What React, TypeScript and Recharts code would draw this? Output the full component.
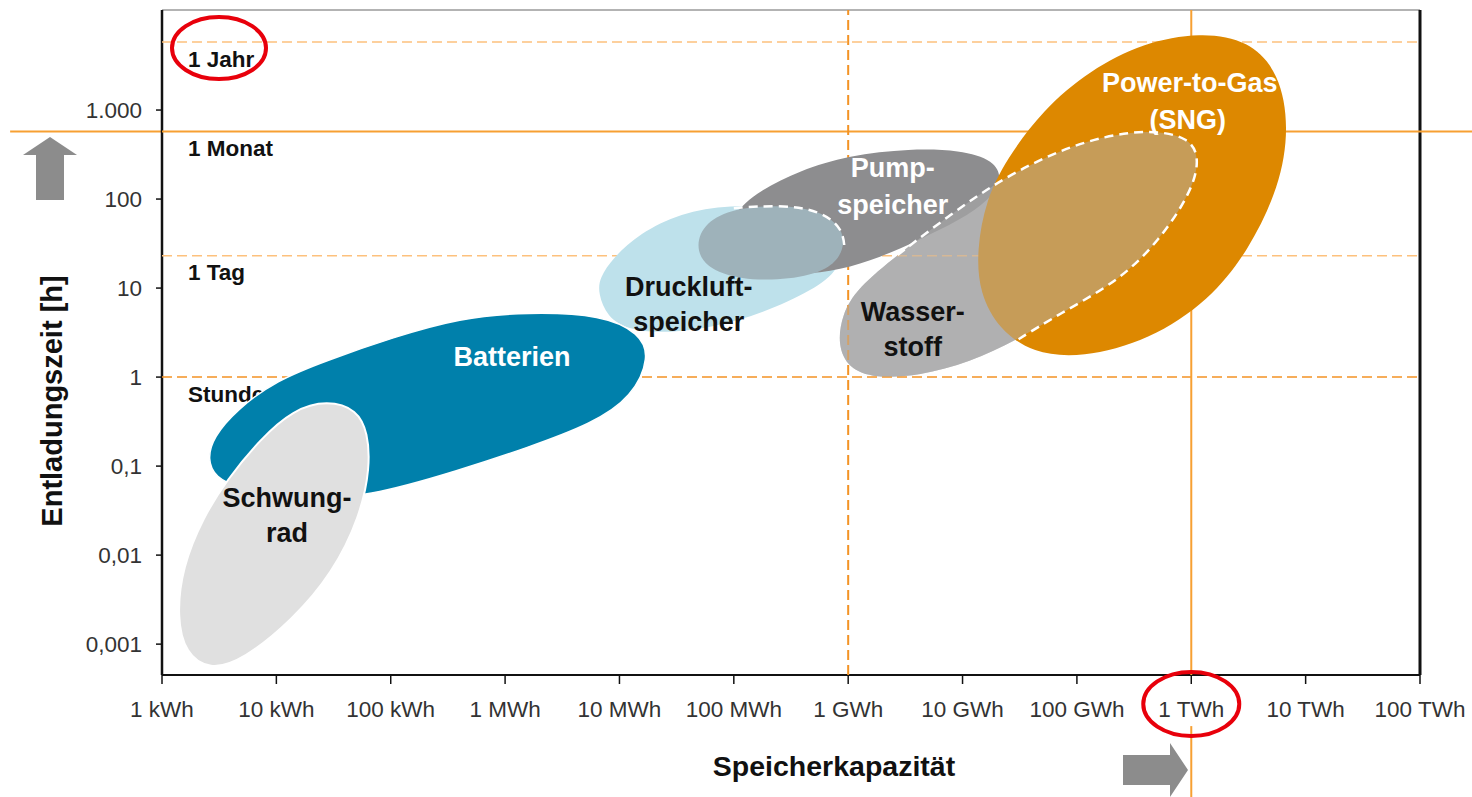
import React from "react";
import { ScatterChart, Scatter, XAxis, YAxis, ReferenceLine } from "recharts";

const FONT = '"Liberation Sans", Arial, Helvetica, sans-serif';

// Speicherkapazität in kWh (x), Entladungszeit in h (y)
const xTicks = [1, 10, 100, 1e3, 1e4, 1e5, 1e6, 1e7, 1e8, 1e9, 1e10, 1e11];
const xTickLabels = ["1 kWh", "10 kWh", "100 kWh", "1 MWh", "10 MWh", "100 MWh", "1 GWh", "10 GWh", "100 GWh", "1 TWh", "10 TWh", "100 TWh"];
const yTicks = [0.001, 0.01, 0.1, 1, 10, 100, 1000];
const yTickLabels = ["0,001", "0,01", "0,1", "1", "10", "100", "1.000"];

const periodLabels = ["1 Jahr", "1 Monat", "1 Tag", "Stunde"];
const periodHours = [5800, 573, 23, 1];
const markGWh = 1e6;
const markTWh = 1e9;

// outlines of the technology areas, [kWh, h]
const batterien = [
  [2.5, 0.12], [2.8, 0.21], [4.5, 0.43], [10, 0.92], [28, 1.55], [105, 2.8], [400, 4.6], [1550, 5.4],
  [7200, 5.0], [15000, 3.1], [18500, 1.7], [13000, 0.6], [5800, 0.3], [1550, 0.16], [400, 0.09],
  [63, 0.045], [16, 0.042], [4.8, 0.055], [2.9, 0.075],
];
const schwungrad = [
  [28, 0.55], [51, 0.43], [63, 0.235], [66, 0.098], [54, 0.027], [31, 0.0063], [14, 0.0019],
  [5.1, 0.00066], [2.6, 0.00051], [1.6, 0.00079], [1.35, 0.002], [1.5, 0.0073], [2.3, 0.027],
  [3.7, 0.07], [7.2, 0.2], [14, 0.43],
];
const druckluft = [
  [6500, 8.8], [7800, 4.7], [12000, 3.4], [24000, 3.1], [65000, 3.6], [180000, 5.2], [490000, 9.5],
  [850000, 16], [900000, 35], [650000, 58], [290000, 81], [92000, 86], [34000, 70], [15000, 41],
  [8800, 22], [6700, 13],
];
const pumpspeicher = [
  [92000, 66], [170000, 126], [380000, 210], [1.0e6, 310], [3.5e6, 370], [9.5e6, 355], [1.9e7, 275],
  [2.25e7, 163], [1.7e7, 97], [9.5e6, 58], [4.2e6, 35], [1.9e6, 22], [850000, 16], [380000, 14],
  [170000, 16], [92000, 27],
];
const pumpDruckluft = [
  [46000, 30], [56000, 55], [100000, 79], [250000, 86], [565000, 75], [900000, 47], [930000, 27],
  [690000, 16], [310000, 12.3], [113000, 12.3], [56000, 17],
];
const wasserstoff = [
  [4.3e8, 600], [9.7e8, 500], [1.2e9, 275], [9.7e8, 111], [5.3e8, 35], [2.4e8, 12.3], [6.8e7, 5],
  [3.0e7, 2.6], [1.16e7, 1.47], [4.2e6, 1.03], [1.7e6, 0.97], [1.0e6, 1.26], [810000, 2.3],
  [880000, 5], [1.2e6, 10], [2.7e6, 23.5], [7.7e6, 66], [2.25e7, 172], [7.1e7, 355], [1.75e8, 510],
];
const powerToGas = [
  [1.2e9, 7500], [3.2e9, 6100], [5.9e9, 2600], [7.2e9, 640], [5.9e9, 136], [3.2e9, 27], [1.45e9, 7.3],
  [4.3e8, 2.6], [1.1e8, 1.63], [4.1e7, 1.86], [2.1e7, 3.4], [1.4e7, 8.8], [1.33e7, 27], [1.6e7, 97],
  [2.4e7, 275], [5.0e7, 1000], [1.3e8, 2800], [3.8e8, 5700],
];

const labelTexts = ["Batterien", "Schwung-", "rad", "Druckluft-", "speicher", "Pump-", "speicher", "Wasser-", "stoff", "Power-to-Gas", "(SNG)"];
const labelKWh = [1150, 12.4, 12.4, 40400, 40400, 2.45e6, 2.45e6, 3.67e6, 3.67e6, 9.7e8, 9.3e8];
const labelHours = [1.68, 0.0437, 0.0177, 10.3, 4.15, 223, 86, 5.4, 2.17, 2010, 772];

const circledPeriod = "1 Jahr";
const circledTick = "1 TWh";

const Y_MIN = 0.00045;
const Y_MAX = 13300;
const X_MIN = xTicks[0];
const X_MAX = xTicks[xTicks.length - 1];

const toXY = (pts: number[][]) => pts.map(([x, y]) => ({ x, y }));

// dashed border only where it shows in the original
const wasserstoffEdge = [...wasserstoff.slice(15), ...wasserstoff.slice(0, 8)];
const pumpDruckluftEdge = pumpDruckluft.slice(2, 7);

const PALE = "#FDC17D";
const ORANGE = "#F39325";
const SOLID = "#F7A032";

const gridLines = [
  { key: "jahr", points: [[X_MIN, periodHours[0]], [X_MAX, periodHours[0]]], stroke: PALE, width: 1.5, dash: "10 5" },
  { key: "monat", points: [[X_MIN, periodHours[1]], [X_MAX, periodHours[1]]], stroke: SOLID, width: 2 },
  { key: "tag", points: [[X_MIN, periodHours[2]], [X_MAX, periodHours[2]]], stroke: PALE, width: 1.5, dash: "10 5" },
  { key: "stunde", points: [[X_MIN, periodHours[3]], [X_MAX, periodHours[3]]], stroke: ORANGE, width: 1.5, dash: "10 5" },
  { key: "gwh", points: [[markGWh, Y_MIN], [markGWh, Y_MAX]], stroke: ORANGE, width: 2, dash: "10 5" },
  { key: "twh", points: [[markTWh, Y_MIN], [markTWh, Y_MAX]], stroke: SOLID, width: 2 },
];

const blobsBelow = [{ key: "wasserstoff", points: wasserstoff, fill: "#B1B1B3" }];

const blobsAbove = [
  { key: "druckluft", points: druckluft, fill: "#BEE1EB" },
  { key: "batterien", points: batterien, fill: "#0080AB", stroke: "#ffffff", strokeWidth: 1.5 },
  { key: "schwungrad", points: schwungrad, fill: "#E0E0E0", stroke: "#ffffff", strokeWidth: 2 },
  { key: "pump", points: pumpspeicher, fill: "#8D8D8F" },
  { key: "pumpDruckluft", points: pumpDruckluft, fill: "#9EB2BA" },
  { key: "ptg", points: powerToGas, fill: "#DD8800" },
  { key: "wasserstoffOverlay", points: wasserstoff, fill: "#B0B0B0", opacity: 0.5 },
];

const edges = [
  { key: "pumpDruckluftEdge", points: pumpDruckluftEdge },
  { key: "wasserstoffEdge", points: wasserstoffEdge },
];

const whiteLabels = ["Batterien", "Pump-", "Power-to-Gas", "(SNG)"];

const noDot = () => <g />;

const renderLabel = (p: any) => {
  const { cx, cy, payload, index } = p;
  const white = whiteLabels.includes(payload.text) || (payload.text === "speicher" && index === 6);
  return (
    <text x={cx} y={cy} textAnchor="middle" dominantBaseline="central" fontSize={27} fontWeight="bold"
      fill={white ? "#ffffff" : "#111111"} fontFamily={FONT}>
      {payload.text}
    </text>
  );
};

const renderPeriod = (p: any) => {
  const { cx, cy, payload } = p;
  return (
    <g>
      <text x={cx + 26} y={cy + 17} dominantBaseline="central" fontSize={22.5} fontWeight="bold" fill="#111" fontFamily={FONT}>
        {payload.text}
      </text>
      {payload.text === circledPeriod && (
        <ellipse cx={cx + 57} cy={cy + 6} rx={47} ry={31} fill="none" stroke="#E8000B" strokeWidth={4} />
      )}
    </g>
  );
};

const renderXTick = (p: any) => {
  const { x, y, payload } = p;
  const label = xTickLabels[xTicks.indexOf(payload.value)];
  return (
    <g>
      <text x={x} y={y + 31} textAnchor="middle" fontSize={22.5} fill="#333" fontFamily={FONT}>{label}</text>
      {label === circledTick && (
        <ellipse cx={x} cy={y + 18} rx={48} ry={32} fill="none" stroke="#E8000B" strokeWidth={4} />
      )}
    </g>
  );
};

const renderXTitle = (p: any) => {
  const { x, y } = p.viewBox;
  return (
    <g>
      <text x={x + 672} y={y + 91} textAnchor="middle" dominantBaseline="central" fontSize={28.5} fontWeight="bold" fill="#111" fontFamily={FONT}>
        Speicherkapazität
      </text>
      <polygon
        points={`${x + 961},${y + 80} ${x + 1008},${y + 80} ${x + 1008},${y + 68} ${x + 1026},${y + 95} ${x + 1008},${y + 122} ${x + 1008},${y + 110} ${x + 961},${y + 110}`}
        fill="#8C8C8C"
      />
    </g>
  );
};

const renderYTitle = (p: any) => {
  const { x, y } = p.viewBox;
  const cx = x + 52;
  const cy = y + 391;
  return (
    <g>
      <polygon
        points={`${x + 23},${y + 145} ${x + 50},${y + 127} ${x + 77},${y + 145} ${x + 64},${y + 145} ${x + 64},${y + 190} ${x + 36},${y + 190} ${x + 36},${y + 145}`}
        fill="#8C8C8C"
      />
      <text x={cx} y={cy} transform={`rotate(-90 ${cx} ${cy})`} textAnchor="middle" dominantBaseline="central"
        fontSize={29} fontWeight="bold" fill="#111" fontFamily={FONT}>
        Entladungszeit [h]
      </text>
    </g>
  );
};

const blobSeries = (b: any) => (
  <Scatter
    key={b.key}
    data={toXY(b.points)}
    shape={noDot}
    isAnimationActive={false}
    lineType="joint"
    lineJointType="basisClosed"
    line={{
      fill: b.fill,
      fillOpacity: b.opacity ?? 1,
      stroke: b.stroke ?? "none",
      strokeWidth: b.strokeWidth ?? 0,
    }}
  />
);

export default function App() {
  const periods = periodLabels.map((t, i) => ({ x: X_MIN, y: periodHours[i], text: t }));
  const labels = labelTexts.map((t, i) => ({ x: labelKWh[i], y: labelHours[i], text: t }));

  return (
    <div style={{ position: "absolute", left: 0, top: 0, width: 1472, height: 797, background: "#fff" }}>
      <ScatterChart width={1472} height={797} margin={{ top: 10, right: 52, bottom: 62, left: 0 }}>
        <XAxis
          dataKey="x"
          type="number"
          scale="log"
          domain={[X_MIN, X_MAX]}
          ticks={xTicks}
          interval={0}
          allowDataOverflow
          height={60}
          axisLine={{ stroke: "#111", strokeWidth: 2 }}
          tickLine={{ stroke: "#111", strokeWidth: 1.5 }}
          tickSize={9}
          tick={renderXTick}
          label={renderXTitle}
        />
        <YAxis
          dataKey="y"
          type="number"
          scale="log"
          domain={[Y_MIN, Y_MAX]}
          ticks={yTicks}
          interval={0}
          allowDataOverflow
          width={162}
          axisLine={{ stroke: "#111", strokeWidth: 2.5 }}
          tickLine={{ stroke: "#111", strokeWidth: 1.5 }}
          tickSize={6}
          tickMargin={14}
          tickFormatter={(v: number) => yTickLabels[yTicks.indexOf(v)]}
          tick={{ fill: "#333", fontSize: 22.5, fontFamily: FONT }}
          label={renderYTitle}
        />

        {/* frame */}
        <ReferenceLine y={Y_MAX} stroke="#9a9a9a" strokeWidth={1.5} />
        <ReferenceLine x={X_MAX} stroke="#111" strokeWidth={3} />

        {/* parts of the solid marks that run outside the plot */}
        <ReferenceLine
          segment={[{ x: 0.047, y: periodHours[1] }, { x: X_MIN, y: periodHours[1] }]}
          ifOverflow="visible"
          stroke={SOLID}
          strokeWidth={2}
        />
        <ReferenceLine
          segment={[{ x: X_MAX, y: periodHours[1] }, { x: 3e11, y: periodHours[1] }]}
          ifOverflow="visible"
          stroke={SOLID}
          strokeWidth={2}
        />
        <ReferenceLine
          segment={[{ x: markTWh, y: 1.2e-4 }, { x: markTWh, y: 1.5e-5 }]}
          ifOverflow="visible"
          stroke={SOLID}
          strokeWidth={2}
        />

        {blobsBelow.map(blobSeries)}

        {gridLines.map((g) => (
          <Scatter
            key={g.key}
            data={toXY(g.points)}
            shape={noDot}
            isAnimationActive={false}
            lineType="joint"
            lineJointType="linear"
            line={{ fill: "none", stroke: g.stroke, strokeWidth: g.width, strokeDasharray: g.dash }}
          />
        ))}

        <Scatter data={periods} shape={renderPeriod} isAnimationActive={false} />

        {blobsAbove.map(blobSeries)}

        {edges.map((e) => (
          <Scatter
            key={e.key}
            data={toXY(e.points)}
            shape={noDot}
            isAnimationActive={false}
            lineType="joint"
            lineJointType="basis"
            line={{ fill: "none", stroke: "#ffffff", strokeWidth: 2.5, strokeDasharray: "9 6" }}
          />
        ))}

        <Scatter data={labels} shape={renderLabel} isAnimationActive={false} />
      </ScatterChart>
    </div>
  );
}
